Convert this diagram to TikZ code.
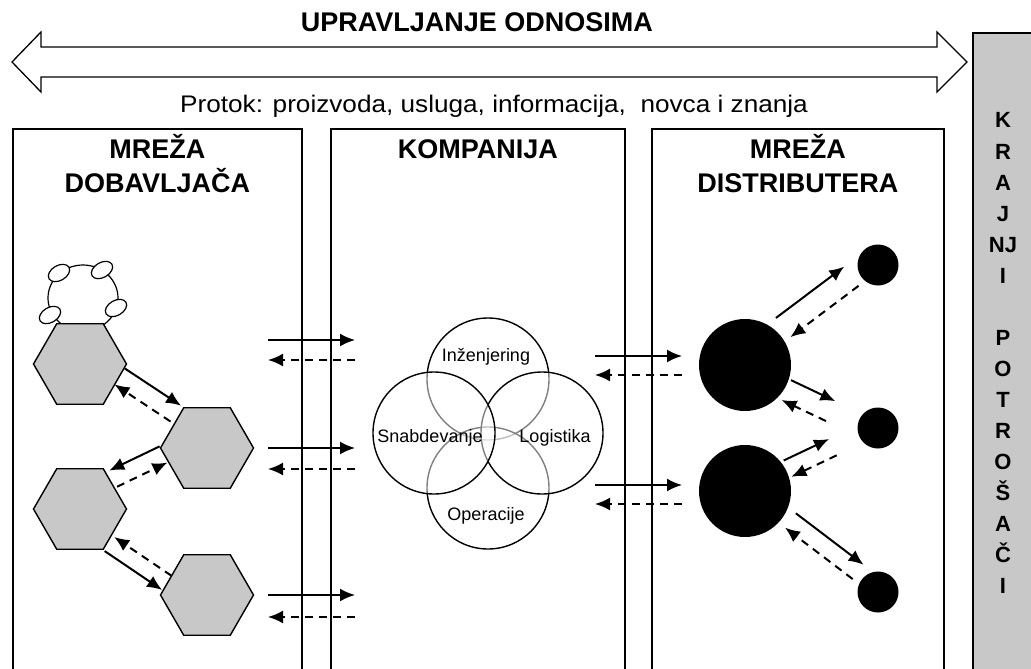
\documentclass[tikz,border=0pt]{standalone}
\usepackage{fontspec}
\setmainfont{Liberation Sans}
\usetikzlibrary{positioning}
\usetikzlibrary{calc}
\usetikzlibrary{shapes.geometric}
\usetikzlibrary{arrows.meta}

\definecolor{boxgray}{RGB}{200,200,200}

\begin{document}
\begin{tikzpicture}[x=1pt, y=-1pt, thick,
    panel/.style = {draw, line width=1.6pt, minimum width=#1, minimum height=560pt, anchor=north west, inner sep=0pt},
    ptitle/.style = {font=\fontsize{27}{30}\selectfont\bfseries, inner sep=0pt, anchor=base},
    hexa/.style = {regular polygon, regular polygon sides=6, draw, fill=boxgray, line width=1.4pt, minimum size=93pt, inner sep=0pt},
    venn/.style = {circle, draw, line width=1.4pt, fill=white, fill opacity=0.5, minimum size=122pt, inner sep=0pt},
    vlabel/.style = {font=\fontsize{18}{20}\selectfont, inner sep=0pt, anchor=base},
    bigdot/.style = {circle, fill=black, minimum size=92pt, inner sep=0pt},
    smalldot/.style = {circle, fill=black, minimum size=41pt, inner sep=0pt},
    flow/.style = {line width=2pt, -{Latex[length=15pt, width=13pt]}},
    back/.style = {flow, dash pattern=on 8pt off 6pt}]
    \useasboundingbox (0,0) rectangle (1031,669);

    % relationship arrow on top
    \node[ptitle] (upr) at (477,32) {UPRAVLJANJE ODNOSIMA};
    \draw[line width=1.3pt, fill=white] (12,62) -- (41,32) -- (41,47) -- (937,47) -- (937,32) -- (967,62)
        -- (937,92) -- (937,77) -- (41,77) -- (41,92) -- cycle;
    \node[font=\fontsize{24}{28}\selectfont, inner sep=0pt, anchor=base] (protok) at (494,113)
        {\scalebox{1.09}[1]{Protok: proizvoda, usluga, informacija,~ novca i znanja}};

    % end consumers
    \node[draw, fill=boxgray, line width=1.6pt, anchor=north west, minimum width=80pt, minimum height=660pt, inner sep=0pt] (kraj) at (972,32) {};
    \foreach \t [count=\i] in {K,R,A,J,NJ,I,{},P,O,T,R,O,Š,A,Č,I}
        \node[font=\fontsize{22}{24}\selectfont\bfseries, inner sep=0pt, anchor=base] (kp\i) at (1003,97+31*\i) {\t};

    % the three panels
    \node[panel=289pt] (pdob) at (12,128) {};
    \node[panel=294pt] (pkomp) at (330,128) {};
    \node[panel=292pt] (pdist) at (651,128) {};

    \node[ptitle] (dobt1) at ($(pdob.north)+(0,30)$) {MREŽA};
    \node[ptitle] (dobt2) at ($(dobt1.base)+(0,34)$) {DOBAVLJAČA};
    \node[ptitle] (kompt) at ($(pkomp.north)+(0,30)$) {KOMPANIJA};
    \node[ptitle] (distt1) at ($(pdist.north)+(0,30)$) {MREŽA};
    \node[ptitle] (distt2) at ($(distt1.base)+(0,34)$) {DISTRIBUTERA};

    % supplier network
    \draw[line width=1.2pt] (83,298) ellipse [x radius=35, y radius=33];
    \fill (90,326) ellipse [x radius=6, y radius=3];
    \foreach \p in {(59,273),(102,270),(50,315),(116,308)}
        \draw[line width=1.2pt, fill=white, rotate around={30:\p}] \p ellipse [x radius=11.5, y radius=7.5];

    \node[hexa] (dob1) at (80,364) {};
    \node[hexa] (dob2) at (207,448) {};
    \node[hexa] (dob3) at (80,509) {};
    \node[hexa] (dob4) at (207,595) {};

    % company
    \node[venn] (inz) at (488,379) {};
    \node[venn] (oper) at (488,488) {};
    \node[venn] (log) at (542,433) {};
    \node[venn] (snab) at (434,433) {};
    \node[vlabel] (inzt) at (486,361) {Inženjering};
    \node[vlabel] (snabt) at (430,442) {Snabdevanje};
    \node[vlabel] (logt) at (555,442) {Logistika};
    \node[vlabel] (opert) at (486,520) {Operacije};

    % distributor network
    \node[bigdot] (dis1) at (745,365) {};
    \node[bigdot] (dis2) at (745,491) {};
    \node[smalldot] (kup1) at (878,265) {};
    \node[smalldot] (kup2) at (878,428) {};
    \node[smalldot] (kup3) at (878,592) {};

    \foreach \a/\b/\ga/\gb/\os/\od in {dob1/dob2/40pt/45pt/21pt/2pt, dob2/dob3/42pt/43pt/-22pt/-4pt,
            dob3/dob4/44pt/40pt/-21pt/-4pt, dis1/kup1/53pt/28pt/19pt/-5pt, dis1/kup2/48pt/50pt/6pt/-16pt,
            dis2/kup2/48pt/49pt/11pt/-7pt, dis2/kup3/54pt/28pt/13pt/-5pt} {
        \draw[flow] ($(\a)!\ga!(\b)!\os!90:(\b)$) -- ($(\b)!\gb!(\a)!\os!-90:(\a)$);
        \draw[back] ($(\b)!\gb!(\a)!\od!-90:(\a)$) -- ($(\a)!\ga!(\b)!\od!90:(\b)$);
    }

    % flows across the panels
    \foreach \ys/\yd [count=\i] in {340/360, 448/469, 595/617} {
        \coordinate (la\i) at (268,\ys);
        \coordinate (lb\i) at (355,\ys);
        \coordinate (lc\i) at (355,\yd);
        \coordinate (ld\i) at (268,\yd);
        \draw[flow] (la\i) -- (lb\i);
        \draw[back] (lc\i) -- (ld\i);
    }
    \foreach \ys/\yd [count=\i] in {356/375, 485/504} {
        \coordinate (ra\i) at (595,\ys);
        \coordinate (rb\i) at (682,\ys);
        \coordinate (rc\i) at (682,\yd);
        \coordinate (rd\i) at (595,\yd);
        \draw[flow] (ra\i) -- (rb\i);
        \draw[back] (rc\i) -- (rd\i);
    }
\end{tikzpicture}
\end{document}
